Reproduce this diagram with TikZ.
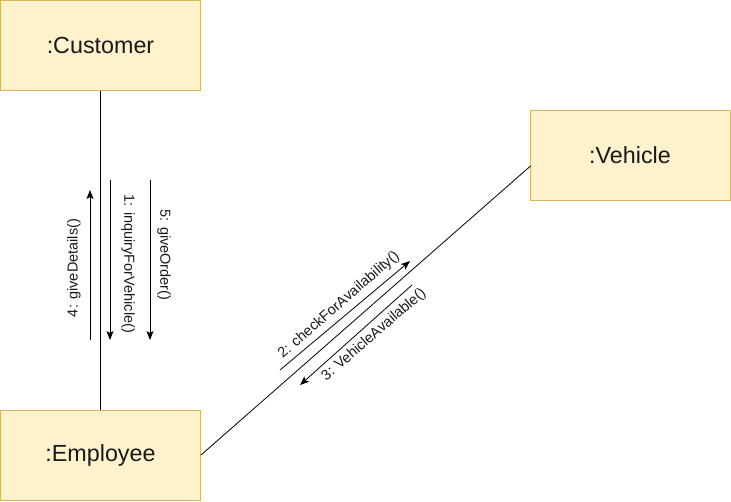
\documentclass[tikz,border=0pt]{standalone}
\usepackage{fontspec}
\setmainfont{Liberation Sans}
\usetikzlibrary{arrows.meta,calc}
\definecolor{boxfill}{HTML}{FFF2CC}
\definecolor{boxdraw}{HTML}{D6B656}
\tikzset{
  objbox/.style={draw=boxdraw, fill=boxfill, line width=1pt, minimum width=200pt, minimum height=90pt, inner sep=0pt, font=\fontsize{23.3}{27}\selectfont, text=black!90},
  link/.style={line width=0.8pt, draw=black},
  msg/.style={line width=0.8pt, -{Stealth[length=9pt,width=7pt,inset=2pt]}},
  msglabel/.style={inner sep=0pt, font=\fontsize{14.5}{16}\selectfont, text=black!90}
}
\begin{document}
\begin{tikzpicture}[x=1pt,y=-1pt]
\useasboundingbox (0,0) rectangle (731,501);
\node[objbox] (cust) at (100.5,45.5) {:Customer};
\node[objbox] (emp) at (100.5,455) {:Employee};
\node[objbox] (veh) at (630,155) {:Vehicle};
\coordinate (vehend) at (530.5,166);
\draw[link] (cust) -- (emp);
\draw[link] (emp.east) -- (vehend);
% vertical messages
\coordinate (m4s) at (90,340);
\coordinate (m4e) at (90,190);
\coordinate (m1s) at (110,180);
\coordinate (m1e) at (110,340);
\coordinate (m5s) at (150,180);
\coordinate (m5e) at (150,340);
\draw[msg] (m4s) -- (m4e);
\draw[msg] (m1s) -- (m1e);
\draw[msg] (m5s) -- (m5e);
\node[msglabel, rotate=90] (l4) at (74,268) {4: giveDetails()};
\node[msglabel, rotate=-90] (l1) at (128,264) {1: inquiryForVehicle()};
\node[msglabel, rotate=-90] (l5) at (164,255) {5: giveOrder()};
% diagonal messages
\coordinate (m2s) at (280,370);
\coordinate (m2e) at (410,261);
\coordinate (m3s) at (412,285);
\coordinate (m3e) at (300,385);
\draw[msg] (m2s) -- (m2e);
\draw[msg] (m3s) -- (m3e);
\node[msglabel, rotate=41] (l2) at (339,305) {2: checkForAvailability()};
\node[msglabel, rotate=41] (l3) at (374,335) {3: VehicleAvailable()};
\end{tikzpicture}
\end{document}
